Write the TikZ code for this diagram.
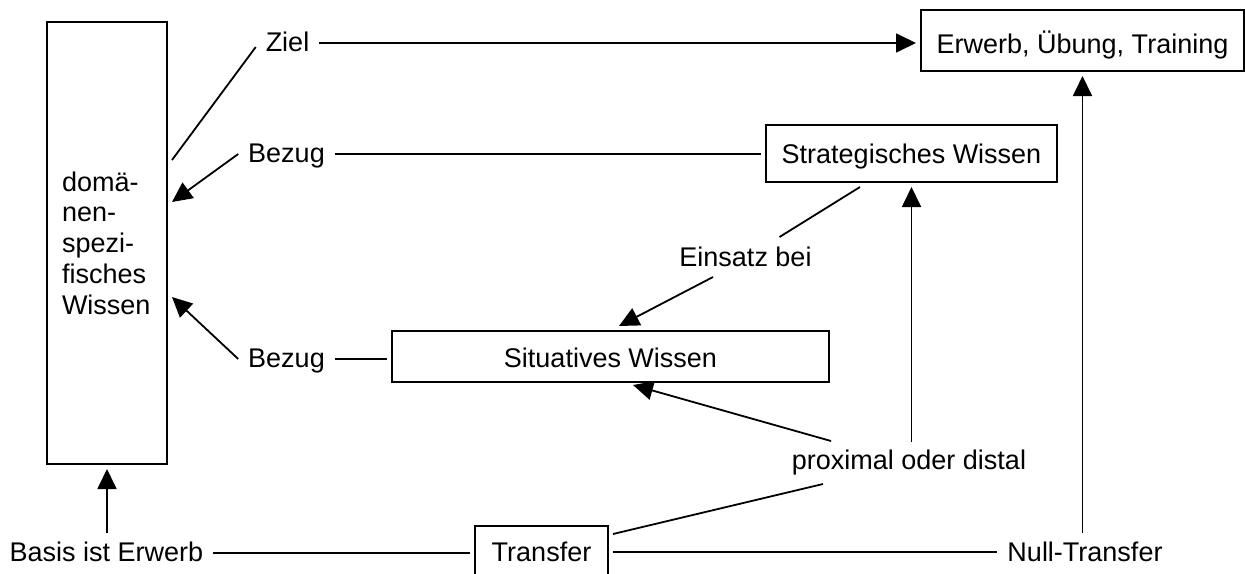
\documentclass[tikz,border=0pt]{standalone}
\usepackage{fontspec}
\setmainfont{Liberation Sans}
\usetikzlibrary{arrows.meta,calc}
\begin{document}
\begin{tikzpicture}[x=1pt,y=-1pt,
  line width=1.8pt,
  font=\fontsize{27pt}{30.75pt}\selectfont,
  box/.style={draw, inner sep=0pt, outer sep=5pt, anchor=base},
  lbl/.style={inner xsep=10pt, inner ysep=0pt, text height=21pt, text depth=5pt, outer sep=0pt, anchor=base},
  conn/.style={line width=1.8pt},
  arr/.style={conn, -{Triangle[length=20pt,width=19pt]}},
]
\fill[white] (0,0) rectangle (1245,573);
\useasboundingbox (0,0) rectangle (1245,573);

% boxed concepts
\node[draw, inner xsep=15pt, inner ysep=0pt, outer sep=5pt, text width=90pt, align=left,
      minimum height=442pt] (dws) at (107,243) {domä-\\nen-\\spezi-\\fisches\\Wissen};
\node[box, text height=43pt, text depth=18pt, minimum width=323pt] (erwerb) at (1082.5,53) {Erwerb, Übung, Training};
\node[box, text height=38pt, text depth=19pt, minimum width=291pt] (strat) at (911.5,163) {Strategisches Wissen};
\node[box, text height=36pt, text depth=15pt, minimum width=437pt] (sit) at (610.5,367) {Situatives Wissen};
\node[box, text height=35pt, text depth=17pt, minimum width=133pt] (transfer) at (541.5,561) {Transfer};

% relation labels
\node[lbl] (ziel) at (287.5,51) {Ziel};
\node[lbl] (bezugA) at (286.5,162) {Bezug};
\node[lbl] (bezugB) at (286.5,367) {Bezug};
\node[lbl] (einsatz) at (745.5,266) {Einsatz bei};
\node[lbl] (prox) at (909,469) {proximal oder distal};
\node[lbl] (basis) at (106.5,561) {Basis ist Erwerb};
\node[lbl] (null) at (1085,561) {Null-Transfer};

% connectors
\draw[conn] ($(ziel.west)+(0,4)$) -- ($(dws.east)+(0,-83)$);
\draw[arr] (ziel.east) -- (ziel.east -| erwerb.west);
\draw[arr] (bezugA.west) -- ($(dws.east)+(0,-41)$);
\draw[conn] (bezugA.east) -- (bezugA.east -| strat.west);
\draw[arr] (bezugB.west) -- ($(dws.east)+(0,54)$);
\draw[conn] (bezugB.east) -- (bezugB.east -| sit.west);
\draw[conn] ($(strat.south)+(-51.5,0)$) -- ($(einsatz.north)+(34,-8)$);
\draw[arr] ($(einsatz.south)+(-32.5,6)$) -- ($(sit.north)+(8.5,0)$);
\draw[arr] ($(strat.south |- prox.north)+(0,-6)$) -- (strat.south);
\draw[arr] ($(prox.north)+(-78,-7)$) -- ($(sit.south)+(22.5,-2)$);
\draw[conn] ($(transfer.east)+(0,-18)$) -- ($(prox.south)+(-86,10)$);
\draw[conn] (basis.east) -- (basis.east -| transfer.west);
\draw[conn] (transfer.east) -- (transfer.east -| null.west);
\draw[arr] ($(dws.south |- basis.north)+(0,-7)$) -- (dws.south);
\draw[arr] ($(erwerb.south |- null.north)+(0,-7)$) -- (erwerb.south);
\end{tikzpicture}
\end{document}
